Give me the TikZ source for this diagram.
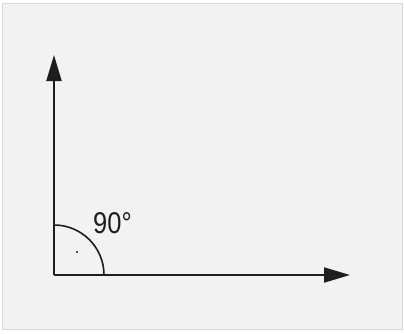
\documentclass[tikz,border=0pt]{standalone}
\usepackage{fontspec}
\setmainfont{Liberation Sans}
\usetikzlibrary{arrows.meta}
\definecolor{bg}{HTML}{F2F2F2}
\definecolor{frame}{HTML}{D8D8D8}
\definecolor{ink}{HTML}{1E1E1E}
\tikzset{
  axis/.style={draw=ink, line width=2pt, -{Triangle[length=26pt,width=15pt]}},
  anglearc/.style={draw=ink, line width=1.6pt},
}
\begin{document}
\begin{tikzpicture}[x=1pt,y=-1pt]
\useasboundingbox (0,0) rectangle (404,333);
\fill[white] (0,0) rectangle (404,333);
\filldraw[fill=bg, draw=frame, line width=1pt] (2.5,3.5) rectangle (402.5,329.5);
\coordinate (O) at (54,275);
\coordinate (Y) at (54,55);
\coordinate (X) at (350,275);
\draw[anglearc] (O) ++(0,-50) arc[start angle=-90, end angle=0, radius=50];
\draw[axis] (O) -- (Y);
\draw[axis] (O) -- (X);
\fill[ink] (77,252) circle (1.2pt);
\node[inner sep=0pt, anchor=base west, text=ink, xscale=0.85, font=\fontsize{30}{32}\selectfont] (lbl) at (93,233) {90°};
\end{tikzpicture}
\end{document}
